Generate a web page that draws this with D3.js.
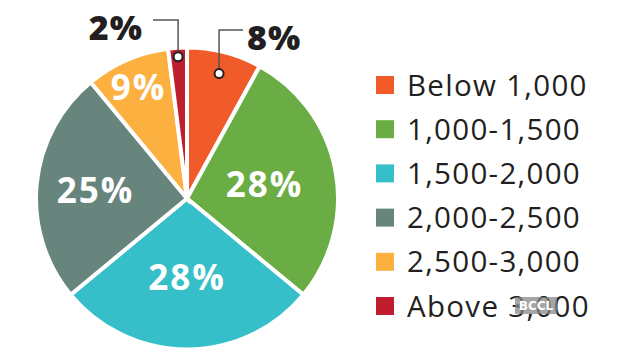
<!DOCTYPE html>
<html>
<head>
<meta charset="utf-8">
<script src="https://cdn.jsdelivr.net/npm/d3@7"></script>
<style>
  html, body { margin: 0; padding: 0; background: #fff; }
  svg { display: block; }
</style>
</head>
<body>
<svg id="chart" width="630" height="357"></svg>
<script>
// ---- data ----
const categories = ["Below 1,000", "1,000-1,500", "1,500-2,000", "2,000-2,500", "2,500-3,000", "Above 3,000"];
const shares = [8, 28, 28, 25, 9, 2];
const pctLabels = ["8%", "28%", "28%", "25%", "9%", "2%"];
const colors = ["#F15A29", "#6AAD45", "#36BFC8", "#67847D", "#FBB040", "#BE1E2D"];

// ---- drawing ----
const svg = d3.select("#chart");
const cx = 187, cy = 198.5, R = 151;

const data = categories.map((c, i) => ({ cat: c, value: shares[i], label: pctLabels[i], color: colors[i], i }));

const pie = d3.pie().sort(null).value(d => d.value).startAngle(0).endAngle(2 * Math.PI);
const arcs = pie(data);
const arc = d3.arc().innerRadius(0).outerRadius(R);

const g = svg.append("g").attr("transform", `translate(${cx},${cy})`);

g.selectAll("path.slice")
  .data(arcs)
  .join("path")
  .attr("class", "slice")
  .attr("d", arc)
  .attr("fill", d => d.data.color)
  .attr("stroke", "#fff")
  .attr("stroke-width", 4)
  .attr("stroke-linejoin", "miter");

const insideR = [null, 79, 78, 92, 122, null];
const font = "'Open Sans', 'Noto Sans', sans-serif";

arcs.forEach((a, i) => {
  if (insideR[i] == null) return;
  const mid = (a.startAngle + a.endAngle) / 2;
  const x = Math.sin(mid) * insideR[i];
  const y = -Math.cos(mid) * insideR[i];
  g.append("text")
    .attr("x", x).attr("y", y)
    .attr("text-anchor", "middle")
    .attr("dominant-baseline", "central")
    .attr("font-family", font)
    .attr("font-weight", 700)
    .attr("font-size", 35)
    .attr("letter-spacing", 2)
    .attr("fill", "#fff")
    .text(a.data.label);
});

const callouts = [
  { i: 0, r: 129, elbowY: -168.5, endX: 56, side: "right" },
  { i: 5, r: 142, elbowY: -178.5, endX: -34, side: "left" }
];
callouts.forEach(c => {
  const a = arcs[c.i];
  const mid = (a.startAngle + a.endAngle) / 2;
  const px = Math.sin(mid) * c.r;
  const py = -Math.cos(mid) * c.r;
  g.append("path")
    .attr("d", `M${px},${py}V${c.elbowY}H${c.endX}`)
    .attr("fill", "none")
    .attr("stroke", "#555")
    .attr("stroke-width", 1.5);
  g.append("circle")
    .attr("cx", px).attr("cy", py).attr("r", 4.5)
    .attr("fill", "#fff")
    .attr("stroke", "#231F20")
    .attr("stroke-width", 2);
  g.append("text")
    .attr("x", c.side === "right" ? c.endX + 4 : c.endX - 10)
    .attr("y", c.elbowY + 20)
    .attr("text-anchor", c.side === "right" ? "start" : "end")
    .attr("font-family", font)
    .attr("font-weight", 800)
    .attr("font-size", 34)
    .attr("letter-spacing", 1)
    .attr("fill", "#231F20")
    .text(a.data.label);
});

// legend
const legend = svg.append("g").attr("transform", "translate(376,76)");
const rowH = 44.2;
const rows = legend.selectAll("g.row")
  .data(data)
  .join("g")
  .attr("class", "row")
  .attr("transform", d => `translate(0,${d.i * rowH})`);
rows.append("rect")
  .attr("width", 18).attr("height", 18)
  .attr("fill", d => d.color);
rows.append("text")
  .attr("x", 31).attr("y", 19.5)
  .attr("font-family", font)
  .attr("font-size", 29.5)
  .attr("letter-spacing", 1.3)
  .attr("fill", "#231F20")
  .text(d => d.cat);

// watermark
const wm = svg.append("g").attr("transform", "translate(515,297)");
wm.append("rect").attr("width", 42).attr("height", 17).attr("fill", "#888").attr("opacity", 0.75);
wm.append("text").attr("x", 21).attr("y", 13).attr("text-anchor", "middle")
  .attr("font-family", "'DejaVu Sans', sans-serif").attr("font-weight", 700)
  .attr("font-size", 12).attr("fill", "#fff").text("BCCL");
</script>
</body>
</html>
